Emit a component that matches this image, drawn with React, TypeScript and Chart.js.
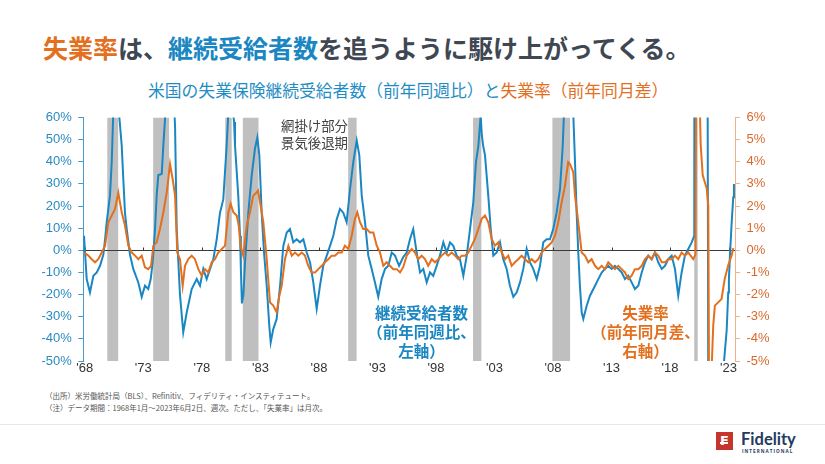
import React, { useEffect, useRef } from "react";
import { Chart, registerables } from "chart.js";

Chart.register(...registerables);

// US continuing claims, % change vs same week a year earlier (left axis)
const claimsYears = [
  1967.93, 1968.16, 1968.44, 1968.73, 1969.02, 1969.3, 1969.58, 1969.73, 1969.87, 1970.15, 1970.3, 1970.43, 1970.6, 1970.8, 1970.95,
  1971.15, 1971.29, 1971.43, 1971.58, 1971.86, 1972.14, 1972.57, 1972.86, 1973.14, 1973.42, 1973.63, 1973.8, 1974.0, 1974.14, 1974.28,
  1974.57, 1974.71, 1974.85, 1975.1, 1975.4, 1975.71, 1975.85, 1976.13, 1976.41, 1976.71, 1977.13, 1977.56, 1977.84, 1978.12, 1978.41,
  1978.7, 1978.98, 1979.27, 1979.55, 1979.83, 1980.12, 1980.26, 1980.45, 1980.62, 1980.75, 1980.83, 1981.11, 1981.26, 1981.33, 1981.42,
  1981.55, 1981.69, 1981.97, 1982.26, 1982.54, 1982.74, 1982.91, 1983.11, 1983.31, 1983.54, 1983.76, 1983.88, 1984.1, 1984.39, 1984.68,
  1984.96, 1985.25, 1985.53, 1985.81, 1986.1, 1986.38, 1986.67, 1986.96, 1987.24, 1987.52, 1987.81, 1988.09, 1988.37, 1988.67, 1988.95,
  1989.23, 1989.52, 1989.8, 1990.08, 1990.37, 1990.66, 1990.94, 1991.23, 1991.45, 1991.66, 1991.94, 1992.22, 1992.51, 1992.79, 1993.07,
  1993.36, 1993.65, 1993.93, 1994.22, 1994.5, 1994.85, 1995.21, 1995.5, 1995.78, 1996.06, 1996.35, 1996.64, 1996.92, 1997.21, 1997.49,
  1997.77, 1998.06, 1998.34, 1998.63, 1998.92, 1999.2, 1999.48, 1999.77, 2000.05, 2000.34, 2000.63, 2000.91, 2001.19, 2001.42, 2001.62,
  2001.82, 2001.92, 2002.04, 2002.19, 2002.47, 2002.68, 2002.9, 2003.19, 2003.47, 2003.75, 2004.04, 2004.32, 2004.61, 2004.9, 2005.18,
  2005.46, 2005.75, 2006.03, 2006.31, 2006.61, 2006.89, 2007.17, 2007.46, 2007.74, 2008.02, 2008.31, 2008.6, 2008.83, 2008.94, 2009.2,
  2009.5, 2009.73, 2009.88, 2010.02, 2010.16, 2010.3, 2010.45, 2010.59, 2010.88, 2011.16, 2011.59, 2011.87, 2012.16, 2012.44, 2012.72,
  2013.01, 2013.29, 2013.58, 2013.87, 2014.15, 2014.43, 2014.72, 2015.0, 2015.29, 2015.58, 2015.86, 2016.14, 2016.43, 2016.71, 2016.99,
  2017.29, 2017.57, 2017.85, 2018.14, 2018.42, 2018.7, 2018.99, 2019.27, 2019.56, 2019.85, 2020.07, 2020.19, 2020.7, 2021.18, 2021.27,
  2021.7, 2022.1, 2022.4, 2022.6, 2022.84, 2022.97, 2023.03, 2023.12, 2023.26, 2023.4, 2023.46,
];
const claimsYoY = [
  6.6, -13, -19, -11.5, -10, -7, -2, 5, 12.7, 24.7, 40, 62, 80, 72, 60,
  47.5, 32, 17, 9.6, -2, -8.4, -14.5, -21, -16, -17.5, -13, -5.4, 9.6, 25, 34,
  34.5, 47.5, 59, 95, 90, 56, 9.6, -20, -37, -28, -17.5, -13, -16, -8.4, -13,
  -8.4, -4, 5, 17, 23, 47.5, 62, 75, 65, 58, 47.5, 24.7, 6.6, -8, -24,
  -20, -5.4, 17, 34, 46, 51, 43, 17, -1, -16, -34, -41.6, -35.6, -31, -16,
  2, 8, 9.6, 3.6, 5, 3.6, 5, -1, -5.4, -14.5, -26.5, -16, -7, -2.4, 2,
  6.6, 14, 18.7, 17, 12.7, 27.7, 40, 49.6, 43, 24.7, 12.7, -2.4, -8.4, -14.5, -21,
  -13, -8.4, -7, -1, -2.4, -7, -3, -1, 5, 9.6, -1, -10, -8.4, -14.5, -10,
  -11.5, -7, -2.4, 3.6, -1, 3.6, 2, -2.4, -4, -11.5, -2.4, 9.6, 21.7, 40, 47,
  61, 52, 47, 43, 24.7, 9.6, -2.4, -1, 3.6, -4, -8.4, -16, -21, -19, -14.5,
  -8.4, 0.6, -5.4, -8.4, -13, -7, 3.6, 5, 5, 9.6, 17, 27.7, 47, 62, 120,
  100, 62, 40, 17, -1, -16, -28, -31, -25, -20.5, -16, -13, -10, -8.4, -7,
  -8.4, -7, -8.4, -10, -13, -11.5, -14.5, -17.5, -16, -10, -5.4, -2.4, -4, -1, -5.4,
  -8.4, -7, -4, -2.4, -8.4, -20.5, -10, -2.4, 0.6, 3.6, 6.6, 1100, 900, 150, -75,
  -78, -68, -58, -51, -36, -19, -13, -2, 12, 24, 30,
];

// US unemployment rate, change vs same month a year earlier, % points (right axis)
const unempYears = [
  1967.93, 1968.3, 1968.59, 1968.87, 1969.15, 1969.44, 1969.73, 1970.01, 1970.3, 1970.58, 1970.86, 1971.15, 1971.43, 1971.72, 1972.01,
  1972.29, 1972.57, 1972.86, 1973.14, 1973.42, 1973.66, 1973.85, 1974.14, 1974.42, 1974.71, 1975.0, 1975.28, 1975.51, 1975.71, 1975.9,
  1976.13, 1976.36, 1976.56, 1976.84, 1977.13, 1977.41, 1977.7, 1977.99, 1978.27, 1978.55, 1978.84, 1979.12, 1979.4, 1979.7, 1979.98,
  1980.26, 1980.46, 1980.69, 1980.98, 1981.15, 1981.3, 1981.54, 1981.83, 1982.11, 1982.39, 1982.69, 1982.8, 1982.97, 1983.25, 1983.54,
  1983.82, 1984.1, 1984.39, 1984.62, 1984.82, 1985.1, 1985.39, 1985.68, 1985.96, 1986.24, 1986.53, 1986.81, 1987.09, 1987.38, 1987.67,
  1987.95, 1988.24, 1988.52, 1988.8, 1989.09, 1989.37, 1989.66, 1989.95, 1990.23, 1990.51, 1990.8, 1991.08, 1991.28, 1991.51, 1991.79,
  1992.08, 1992.36, 1992.65, 1992.94, 1993.22, 1993.5, 1993.79, 1994.07, 1994.35, 1994.65, 1994.93, 1995.21, 1995.5, 1995.93, 1996.21,
  1996.49, 1996.78, 1997.06, 1997.34, 1997.64, 1997.92, 1998.2, 1998.49, 1998.77, 1999.05, 1999.34, 1999.63, 1999.91, 2000.2, 2000.48,
  2000.76, 2001.05, 2001.33, 2001.62, 2001.91, 2002.19, 2002.47, 2002.76, 2003.04, 2003.33, 2003.62, 2003.9, 2004.18, 2004.47, 2004.75,
  2005.03, 2005.32, 2005.61, 2005.89, 2006.18, 2006.46, 2006.74, 2007.03, 2007.31, 2007.6, 2007.89, 2008.17, 2008.45, 2008.74, 2009.02,
  2009.3, 2009.45, 2009.73, 2009.88, 2010.16, 2010.45, 2010.73, 2011.01, 2011.3, 2011.59, 2011.87, 2012.16, 2012.44, 2012.72, 2013.01,
  2013.29, 2013.58, 2013.87, 2014.15, 2014.43, 2014.72, 2015.0, 2015.29, 2015.58, 2015.86, 2016.14, 2016.43, 2016.71, 2016.99, 2017.29,
  2017.57, 2017.85, 2018.14, 2018.42, 2018.7, 2018.99, 2019.27, 2019.56, 2019.98, 2020.17, 2020.25, 2020.4, 2020.5, 2020.62, 2020.79,
  2021.13, 2021.27, 2021.35, 2021.45, 2021.55, 2021.69, 2021.83, 2022.11, 2022.4, 2022.68, 2022.97, 2023.26, 2023.4,
];
const unempDiff = [
  -0.1, -0.24, -0.4, -0.54, -0.4, -0.1, 0.2, 1.27, 1.57, 1.87, 2.6, 1.72, 1.12, 0.21, -0.1,
  -0.24, -0.4, -0.24, -0.77, -0.85, -0.7, 0.2, 0.36, 0.96, 1.72, 2.62, 3.9, 3.2, 2.47, -0.1,
  -0.4, -1.6, -0.7, -0.4, -0.24, -0.4, -0.85, -1.15, -0.85, -1.0, -0.54, -0.4, -0.1, 0.06, 0.21,
  1.72, 2.1, 1.72, 1.57, 1.12, 0.2, -0.24, 1.12, 1.72, 2.47, 2.62, 2.7, 2.17, 1.27, -0.4,
  -2.35, -2.5, -2.8, -2.05, -1.6, -0.4, 0.2, -0.24, -0.1, -0.24, -0.1, -0.24, -0.7, -1.0, -1.0,
  -0.85, -0.7, -0.54, -0.4, -0.24, -0.24, -0.1, -0.1, 0.21, 0.06, 0.66, 1.42, 1.72, 1.27, 0.96,
  0.96, 0.81, 0.81, 0.21, -0.1, -0.7, -0.54, -0.7, -0.85, -0.85, -1.0, -0.75, -0.24, 0.06, -0.1,
  -0.4, -0.24, -0.4, -0.7, -0.4, -0.54, -0.4, -0.24, -0.1, -0.24, -0.1, -0.24, -0.4, -0.24, -0.24,
  -0.1, 0.21, 0.51, 0.96, 1.42, 1.57, 1.27, 0.51, 0.21, 0.36, -0.1, -0.4, -0.24, -0.7, -0.54,
  -0.4, -0.24, -0.4, -0.54, -0.4, -0.54, -0.4, -0.1, 0.06, 0.21, 0.36, 0.66, 1.27, 2.17, 2.9,
  3.98, 3.9, 3.53, 2.47, 1.27, -0.1, -0.24, -0.54, -0.4, -0.7, -0.85, -0.7, -0.85, -0.54, -0.7,
  -0.85, -0.7, -0.85, -1.0, -1.3, -1.15, -0.85, -0.85, -0.7, -0.4, -0.24, -0.4, -0.1, -0.24, -0.54,
  -0.54, -0.4, -0.4, -0.24, -0.4, -0.1, -0.24, -0.1, -0.4, -0.2, 11.2, 9.5, 7.5, 4.75, 3.4,
  2.8, 2.0, -8.6, -7.3, -5.4, -3.4, -2.5, -2.35, -2.2, -1.27, -0.68, -0.23, 0.1,
];

// recessions (shaded)
const recessionStarts = [1969.92, 1973.84, 1980.0, 1981.5, 1990.5, 2001.17, 2007.95, 2020.07];
const recessionEnds = [1970.85, 1975.2, 1980.55, 1982.84, 1991.22, 2001.88, 2009.46, 2020.36];

const xTickYears = [1968, 1973, 1978, 1983, 1988, 1993, 1998, 2003, 2008, 2013, 2018, 2023];
const xTickLabels = ["'68", "'73", "'78", "'83", "'88", "'93", "'98", "'03", "'08", "'13", "'18", "'23"];

const BLUE = "#1a87c2";
const ORANGE = "#e2701f";
const AXIS_FONT = { family: "'Liberation Sans', Arial, sans-serif", size: 13 };

const backdropPlugin = {
  id: "backdrop",
  beforeDatasetsDraw(chart: any) {
    const { ctx, chartArea: a, scales } = chart;
    const xs = scales.x;
    const ys = scales.y;
    ctx.save();
    ctx.beginPath();
    ctx.rect(a.left, a.top, a.right - a.left, a.bottom - a.top);
    ctx.clip();
    ctx.fillStyle = "#bfbfbf";
    recessionStarts.forEach((s, i) => {
      const x0 = xs.getPixelForValue(s);
      const x1 = xs.getPixelForValue(recessionEnds[i]);
      ctx.fillRect(x0, a.top, x1 - x0, a.bottom - a.top);
    });
    const y0 = Math.round(ys.getPixelForValue(0)) + 0.5;
    ctx.strokeStyle = "#3a3a3a";
    ctx.lineWidth = 1;
    ctx.beginPath();
    ctx.moveTo(a.left, y0);
    ctx.lineTo(a.right, y0);
    xTickYears.forEach((v) => {
      const px = Math.round(xs.getPixelForValue(v)) + 0.5;
      ctx.moveTo(px, y0);
      ctx.lineTo(px, y0 - 3);
    });
    ctx.stroke();
    ctx.restore();
  },
};

function ChartCanvas() {
  const ref = useRef<HTMLCanvasElement | null>(null);
  useEffect(() => {
    if (!ref.current) return;
    const chart = new Chart(ref.current, {
      type: "line",
      data: {
        datasets: [
          {
            label: "失業率（前年同月差）",
            data: unempYears.map((x, i) => ({ x, y: unempDiff[i] })),
            borderColor: ORANGE,
            borderWidth: 2,
            pointRadius: 0,
            yAxisID: "y1",
            order: 0,
          },
          {
            label: "継続受給者数（前年同週比）",
            data: claimsYears.map((x, i) => ({ x, y: claimsYoY[i] })),
            borderColor: BLUE,
            borderWidth: 2,
            pointRadius: 0,
            yAxisID: "y",
            order: 1,
          },
        ],
      },
      options: {
        responsive: false,
        maintainAspectRatio: false,
        animation: false,
        layout: { padding: { top: 17.5, bottom: 0, left: 0, right: 0 } },
        plugins: { legend: { display: false }, tooltip: { enabled: false } },
        elements: { line: { tension: 0 }, point: { radius: 0 } },
        scales: {
          x: {
            type: "linear",
            min: 1967.87,
            max: 2023.55,
            afterBuildTicks: (s: any) => {
              s.ticks = xTickYears.map((v) => ({ value: v }));
            },
            afterFit: (s: any) => {
              s.height = 19;
            },
            ticks: {
              autoSkip: false,
              maxRotation: 0,
              color: "#333333",
              font: AXIS_FONT,
              padding: 0,
              callback: (_v: any, i: number) => xTickLabels[i],
            },
            grid: { display: false, drawTicks: false },
            border: { display: false },
          },
          y: {
            position: "left",
            min: -50,
            max: 60,
            afterFit: (s: any) => {
              s.width = 83.3;
            },
            ticks: {
              stepSize: 10,
              color: "#2a8bc0",
              font: AXIS_FONT,
              padding: 6.5,
              callback: (v: any) => `${v}%`,
            },
            grid: { drawOnChartArea: false, drawTicks: true, tickLength: 5, color: "#4a9ac8" },
            border: { display: true, color: "#4a9ac8" },
          },
          y1: {
            position: "right",
            min: -5,
            max: 6,
            afterFit: (s: any) => {
              s.width = 90;
            },
            ticks: {
              stepSize: 1,
              color: "#d9692b",
              font: AXIS_FONT,
              padding: 6.5,
              callback: (v: any) => `${v}%`,
            },
            grid: { drawOnChartArea: false, drawTicks: true, tickLength: 5, color: "#ebb48c" },
            border: { display: true, color: "#ebb48c" },
          },
        },
      } as any,
      plugins: [backdropPlugin],
    });
    return () => chart.destroy();
  }, []);
  return (
    <canvas
      ref={ref}
      width={825}
      height={280}
      style={{ position: "absolute", left: 0, top: 100, width: 825, height: 280 }}
    />
  );
}

const JP = "'Noto Sans CJK JP', 'Noto Sans', sans-serif";

export default function App() {
  useEffect(() => {
    document.body.style.margin = "0";
  }, []);
  const abs = (o: React.CSSProperties): React.CSSProperties => ({ position: "absolute", whiteSpace: "nowrap", ...o });
  return (
    <div style={{ position: "fixed", left: 0, top: 0, width: 825, height: 464, overflow: "hidden", background: "#fff", fontFamily: JP }}>
      <div style={abs({ left: 43, top: 33, fontSize: 25, lineHeight: "28px", fontWeight: 700, color: "#3f4752" })}>
        <span style={{ color: ORANGE }}>失業率</span>は、<span style={{ color: BLUE }}>継続受給者数</span>を追うように駆け上がってくる。
      </div>
      <div style={abs({ left: 148, top: 80, fontSize: 16.8, lineHeight: "20px", color: "#1f8dc4" })}>
        米国の失業保険継続受給者数（前年同週比）と<span style={{ color: ORANGE }}>失業率（前年同月差）</span>
      </div>
      <ChartCanvas />
      <div style={abs({ left: 281, top: 116.5, fontSize: 13.4, lineHeight: "17.3px", color: "#404040" })}>
        網掛け部分
        <br />
        景気後退期
      </div>
      <div style={abs({ left: 361.5, width: 120, top: 303, fontSize: 15.5, lineHeight: "19px", fontWeight: 700, color: BLUE, textAlign: "center" })}>
        継続受給者数
        <br />
        （前年同週比、
        <br />
        左軸）
      </div>
      <div style={abs({ left: 585.5, width: 120, top: 303, fontSize: 15.5, lineHeight: "19px", fontWeight: 700, color: ORANGE, textAlign: "center" })}>
        失業率
        <br />
        （前年同月差、
        <br />
        右軸）
      </div>
      <div style={abs({ left: 45, top: 390, fontSize: 7.5, lineHeight: "11.5px", color: "#555555" })}>
        （出所）米労働統計局（BLS）、Refinitiv、フィデリティ・インスティテュート。
        <br />
        （注）データ期間：1968年1月～2023年6月2日、週次。ただし、「失業率」は月次。
      </div>
      <div style={abs({ left: 0, top: 424, width: 825, height: 1, background: "#e6e6e6" })} />
      <div style={abs({ left: 716, top: 432, width: 17, height: 18, background: "#c5352b" })}>
        <div style={abs({ left: 0, top: 0, width: 17, height: 18, color: "#fff", fontFamily: "'DejaVu Sans', sans-serif", fontWeight: 700, fontSize: 13, lineHeight: "18px", textAlign: "center" })}>F</div>
        <div style={abs({ left: 4, top: 10, width: 8, height: 1.5, background: "#fff" })} />
      </div>
      <div style={abs({ left: 741, top: 430, fontSize: 16.5, lineHeight: "18px", fontWeight: 700, color: "#233a60", fontFamily: "Lato, 'Open Sans', sans-serif" })}>
        Fidelity
      </div>
      <div style={abs({ left: 742, top: 448.5, fontSize: 4.6, lineHeight: "5px", letterSpacing: 1.05, fontWeight: 700, color: "#233a60", fontFamily: "'Open Sans', sans-serif" })}>
        INTERNATIONAL
      </div>
    </div>
  );
}
